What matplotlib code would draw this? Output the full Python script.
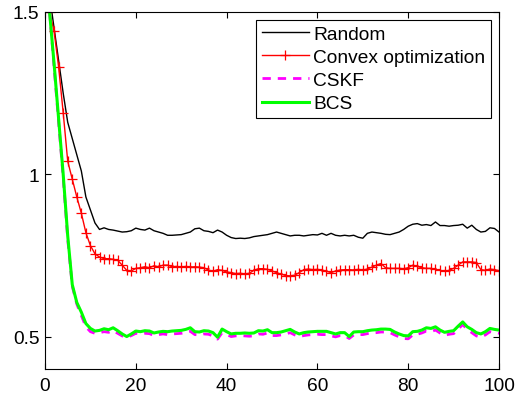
import numpy as np
import matplotlib
matplotlib.use("Agg")
import matplotlib.pyplot as plt
from matplotlib.ticker import FormatStrFormatter

plt.rcParams['font.family'] = ['Liberation Sans', 'DejaVu Sans']
plt.rcParams['font.size'] = 13.8

# ====== data ======
x = np.arange(1, 101)

random_vals = [1.55, 1.45, 1.35, 1.25, 1.16, 1.11, 1.06, 1.01, 0.93, 0.89,
               0.85, 0.83, 0.835, 0.83, 0.828, 0.825, 0.822, 0.823, 0.826, 0.834,
               0.83, 0.828, 0.834, 0.826, 0.822, 0.818, 0.812, 0.812, 0.813, 0.814,
               0.818, 0.822, 0.832, 0.834, 0.826, 0.824, 0.82, 0.828, 0.822, 0.812,
               0.805, 0.802, 0.803, 0.802, 0.804, 0.808, 0.81, 0.812, 0.814, 0.818,
               0.822, 0.818, 0.814, 0.81, 0.812, 0.812, 0.81, 0.812, 0.814, 0.813,
               0.818, 0.812, 0.818, 0.812, 0.81, 0.812, 0.81, 0.812, 0.806, 0.803,
               0.818, 0.822, 0.82, 0.818, 0.815, 0.814, 0.818, 0.822, 0.83, 0.84,
               0.846, 0.848, 0.843, 0.845, 0.842, 0.853, 0.842, 0.842, 0.84, 0.842,
               0.843, 0.846, 0.834, 0.843, 0.83, 0.822, 0.824, 0.835, 0.833, 0.822]

convex_vals = [1.50, 1.44, 1.33, 1.19, 1.04, 0.985, 0.93, 0.88, 0.82, 0.78,
               0.755, 0.745, 0.74, 0.74, 0.738, 0.735, 0.72, 0.704, 0.702, 0.71,
               0.712, 0.715, 0.712, 0.718, 0.715, 0.72, 0.72, 0.715, 0.716, 0.714,
               0.716, 0.714, 0.715, 0.714, 0.712, 0.705, 0.701, 0.706, 0.704, 0.699,
               0.697, 0.694, 0.695, 0.693, 0.695, 0.704, 0.709, 0.709, 0.707, 0.702,
               0.697, 0.692, 0.688, 0.687, 0.689, 0.697, 0.706, 0.708, 0.706, 0.707,
               0.705, 0.701, 0.697, 0.702, 0.705, 0.706, 0.706, 0.705, 0.707, 0.705,
               0.708, 0.714, 0.72, 0.725, 0.712, 0.71, 0.71, 0.71, 0.709, 0.712,
               0.72, 0.716, 0.712, 0.71, 0.71, 0.707, 0.704, 0.701, 0.704, 0.71,
               0.72, 0.73, 0.73, 0.73, 0.728, 0.706, 0.704, 0.708, 0.706, 0.703]

cskf_vals = [1.50, 1.33, 1.16, 0.99, 0.80, 0.655, 0.60, 0.565, 0.53, 0.515,
             0.51, 0.512, 0.515, 0.513, 0.518, 0.51, 0.502, 0.497, 0.503, 0.51,
             0.508, 0.51, 0.509, 0.503, 0.506, 0.508, 0.506, 0.508, 0.509, 0.51,
             0.512, 0.516, 0.506, 0.505, 0.508, 0.507, 0.502, 0.492, 0.512, 0.506,
             0.5, 0.502, 0.503, 0.502, 0.501, 0.502, 0.508, 0.507, 0.511, 0.503,
             0.503, 0.505, 0.508, 0.512, 0.505, 0.5, 0.503, 0.505, 0.506, 0.507,
             0.506, 0.506, 0.502, 0.499, 0.503, 0.503, 0.494, 0.505, 0.506, 0.506,
             0.509, 0.511, 0.512, 0.514, 0.514, 0.512, 0.505, 0.499, 0.494, 0.493,
             0.505, 0.507, 0.511, 0.517, 0.515, 0.52, 0.511, 0.504, 0.507, 0.509,
             0.523, 0.537, 0.522, 0.512, 0.502, 0.498, 0.505, 0.515, 0.512, 0.51]

bcs_vals = [1.50, 1.34, 1.17, 1.0, 0.81, 0.66, 0.605, 0.575, 0.54, 0.525,
            0.517, 0.519, 0.524, 0.521, 0.527, 0.518, 0.508, 0.5, 0.508, 0.517,
            0.515, 0.518, 0.517, 0.511, 0.514, 0.516, 0.515, 0.517, 0.518, 0.519,
            0.522, 0.527, 0.515, 0.514, 0.518, 0.517, 0.512, 0.498, 0.523, 0.515,
            0.508, 0.51, 0.51, 0.511, 0.51, 0.511, 0.518, 0.517, 0.521, 0.512,
            0.512, 0.514, 0.518, 0.522, 0.514, 0.508, 0.512, 0.514, 0.515, 0.516,
            0.516, 0.516, 0.512, 0.508, 0.512, 0.512, 0.5, 0.514, 0.515, 0.515,
            0.518, 0.52, 0.521, 0.523, 0.523, 0.522, 0.514, 0.508, 0.503, 0.502,
            0.515, 0.516, 0.52, 0.527, 0.525, 0.53, 0.52, 0.513, 0.516, 0.518,
            0.532, 0.545, 0.53, 0.522, 0.512, 0.508, 0.515, 0.525, 0.522, 0.52]

# ====== plot ======
fig = plt.figure(figsize=(5.26, 4.02), dpi=100)
ax = fig.add_axes([0.0856, 0.0796, 0.8631, 0.8881])

ax.plot(x, random_vals, color='k', lw=1.0, label='Random')
ax.plot(x, convex_vals, color='r', lw=1.0, marker='+', markersize=7,
        markeredgewidth=0.9, label='Convex optimization')
ax.plot(x, cskf_vals, color='#ff00ff', lw=2.0, ls=(0, (3, 2.5)), label='CSKF')
ax.plot(x, bcs_vals, color='#00ff00', lw=2.2, label='BCS')

ax.set_xlim(0, 100)
ax.set_ylim(0.4, 1.5)
ax.set_xticks([0, 20, 40, 60, 80, 100])
ax.set_yticks([0.5, 1.0, 1.5])
ax.yaxis.set_major_formatter(FormatStrFormatter('%g'))
ax.tick_params(direction='in', top=True, right=True, length=4, width=0.8)
ax.tick_params(axis='x', pad=6)
ax.tick_params(axis='y', pad=4)
for s in ax.spines.values():
    s.set_linewidth(0.8)

leg = ax.legend(loc='upper right', fancybox=False, framealpha=1, edgecolor='k',
                handlelength=2.45, handletextpad=0.25, labelspacing=0.3,
                borderpad=0.3, borderaxespad=0.4, fontsize=13.8)
leg.get_frame().set_linewidth(0.8)

fig.savefig('out.png', dpi=100)
